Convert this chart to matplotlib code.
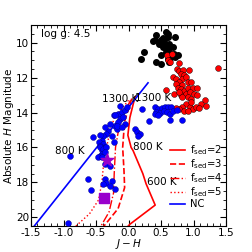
import numpy as np
import matplotlib
matplotlib.use("Agg")
import matplotlib.pyplot as plt
from matplotlib.ticker import MultipleLocator

# field dwarfs
black_x = [0.43, 0.57, 0.60, 0.53, 0.37, 0.41, 0.50, 0.55, 0.60, 0.72, 0.47, 0.54, 0.58, 0.63,
           0.53, 0.60, 0.68, 0.57, 0.63, 0.70, 0.76, 0.65, 0.50, 0.24, 0.19, 0.43, 0.50, 0.63,
           0.60, 0.72]
black_y = [9.54, 9.38, 9.48, 9.71, 9.90, 9.86, 9.86, 9.82, 9.67, 9.67, 10.05, 10.02, 10.15, 10.05,
           10.25, 10.34, 10.25, 10.53, 10.53, 10.63, 10.72, 10.82, 10.72, 10.53, 10.91, 11.11, 11.20,
           11.11, 10.91, 10.82]

red_x = [0.59, 0.67, 0.60, 0.64, 0.78, 0.74, 0.77, 0.84, 0.93, 0.81, 0.86, 0.68, 0.73, 0.83,
         0.88, 0.78, 0.91, 0.96, 0.83, 0.73, 0.76, 0.81, 0.86, 0.91, 0.99, 1.05, 0.57, 0.70,
         0.81, 0.88, 0.94, 1.01, 1.06, 0.91, 0.96, 1.17, 1.12, 1.19, 0.88, 0.94, 0.99, 1.04,
         1.09, 0.83, 0.78, 0.86, 0.73, 0.91, 1.37, 0.78, 0.83, 0.96]
red_y = [10.69, 10.63, 11.01, 11.11, 11.14, 11.49, 11.62, 11.59, 11.55, 11.78, 11.87, 11.97,
         12.06, 12.06, 11.97, 12.26, 12.26, 12.26, 12.45, 12.35, 12.58, 12.64, 12.74, 12.58,
         12.58, 12.58, 12.70, 12.93, 12.97, 12.93, 12.83, 12.93, 13.02, 13.12, 13.21, 13.27,
         13.50, 13.60, 13.50, 13.69, 13.79, 13.69, 13.73, 13.69, 13.79, 13.89, 13.73, 13.89,
         11.43, 12.83, 13.12, 13.41]

blue_x = [0.20, 0.41, 0.46, 0.51, 0.56, 0.61, 0.66, 0.43, 0.48, 0.54, 0.59, 0.64, 0.69, 0.74,
          0.41, 0.46, 0.32, 0.64, 0.82, 0.10, 0.13, 0.18, 0.15,
          -0.23, -0.16, -0.10, -0.05, -0.13, -0.08, -0.16, -0.21, -0.28, -0.31, -0.34, -0.26,
          -0.39, -0.44, -0.54, -0.41, -0.46, -0.39, -0.36, -0.44, -0.41, -0.23, -0.18, -0.03,
          -0.44, -0.39, -0.34, -0.41, -0.44, -0.36, -0.28, -0.36, -0.34, -0.26, -0.39, -0.28,
          -0.21, -0.63, -0.58, -0.90, -0.93, -0.36, -0.18, -0.05, -0.10, -0.47, -0.41, -0.36,
          -0.21, -0.13]
blue_y = [13.79, 13.70, 13.79, 13.73, 13.70, 13.66, 13.70, 13.98, 14.04, 13.93, 13.98, 14.07,
          13.93, 13.84, 14.07, 14.17, 14.50, 14.42, 14.42, 14.94, 15.13, 15.22, 15.32,
          14.17, 14.07, 13.98, 13.84, 14.36, 14.27, 14.56, 14.75, 14.65, 15.03, 15.22, 15.32,
          15.32, 15.26, 15.38, 15.61, 15.71, 15.80, 15.99, 15.90, 16.14, 15.71, 14.94, 13.70,
          15.99, 16.09, 15.99, 16.37, 16.47, 16.95, 17.05, 17.81, 18.01, 17.91, 18.10, 18.20,
          18.39, 17.78, 18.44, 16.47, 20.30, 14.84, 14.75, 14.65, 14.84, 16.57, 16.57, 16.28,
          14.17, 13.60]

star_x, star_y = [-0.33], [16.70]
square_x, square_y = [-0.38], [18.90]

# cloudy model tracks
f2_x = [0.10, 0.02, -0.01, 0.04, 0.07, 0.22, 0.27, 0.41, 0.02, -0.03]
f2_y = [13.10, 14.30, 15.30, 16.00, 16.18, 17.50, 18.08, 19.30, 20.40, 20.60]
f3_x = [0.05, -0.06, -0.09, -0.07, -0.06, -0.16, -0.40]
f3_y = [13.20, 14.50, 16.00, 17.30, 18.30, 19.50, 20.60]
f4_x = [0.03, -0.13, -0.20, -0.22, -0.23, -0.30, -0.44]
f4_y = [13.30, 14.50, 16.00, 17.50, 18.60, 19.70, 20.60]
f5_x = [0.00, -0.22, -0.31, -0.38, -0.41, -0.46, -0.60, -0.84]
f5_y = [13.30, 14.30, 15.50, 16.80, 18.00, 19.00, 19.80, 20.60]
nc_x = [-1.46, 0.30]
nc_y = [20.55, 12.30]

teff_labels = ["1300 K", "1300 K", "800 K", "800 K", "600 K"]
teff_x = [-0.41, 0.10, -1.13, 0.07, 0.28]
teff_y = [13.20, 13.14, 16.18, 15.95, 18.00]

plt.rcParams['font.size'] = 7.5
plt.rcParams['axes.unicode_minus'] = False

fig = plt.figure(figsize=(2.52, 2.52), dpi=100)
ax = fig.add_axes([0.123, 0.103, 0.774, 0.797])

ax.scatter(black_x, black_y, s=16, c='k', zorder=3)
ax.scatter(red_x, red_y, s=18, c='red', edgecolors='k', linewidths=0.3, zorder=3)
ax.scatter(blue_x, blue_y, s=18, c='blue', edgecolors='navy', linewidths=0.3, zorder=3)
ax.scatter(star_x, star_y, s=90, marker='*', c='#9900cc', zorder=4)
ax.scatter(square_x, square_y, s=55, marker='s', c='#9900cc', zorder=4)

ax.plot(f2_x, f2_y, '-', color='red', lw=1.2, label=r'f$_{\rm sed}$=2')
ax.plot(f3_x, f3_y, '--', color='red', lw=1.2, label=r'f$_{\rm sed}$=3')
ax.plot(f4_x, f4_y, '-.', color='red', lw=1.0, label=r'f$_{\rm sed}$=4')
ax.plot(f5_x, f5_y, ':', color='red', lw=1.0, label=r'f$_{\rm sed}$=5')
ax.plot(nc_x, nc_y, '-', color='blue', lw=1.2, label='NC')

for lab, tx, ty in zip(teff_labels, teff_x, teff_y):
    ax.text(tx, ty, lab, ha='left', va='center', fontsize=7.5)

ax.text(-1.35, 9.7, 'log g: 4.5', fontsize=7.5)

ax.set_xlim(-1.5, 1.5)
ax.set_ylim(20.5, 9)
ax.xaxis.set_major_locator(MultipleLocator(0.5))
ax.xaxis.set_minor_locator(MultipleLocator(0.1))
ax.yaxis.set_major_locator(MultipleLocator(2))
ax.yaxis.set_minor_locator(MultipleLocator(0.5))
ax.tick_params(which='both', direction='in', top=True, right=True, pad=1.5)
ax.tick_params(which='major', length=4)
ax.tick_params(which='minor', length=2)

ax.set_xlabel(r'$J-H$', labelpad=-1)
ax.set_ylabel(r'Absolute $H$ Magnitude', labelpad=0)

ax.legend(loc='lower right', bbox_to_anchor=(1.03, 0.04), frameon=False,
          handlelength=1.5, handletextpad=0.5, labelspacing=0.02, fontsize=7.2)

plt.savefig('out.png', dpi=100)
